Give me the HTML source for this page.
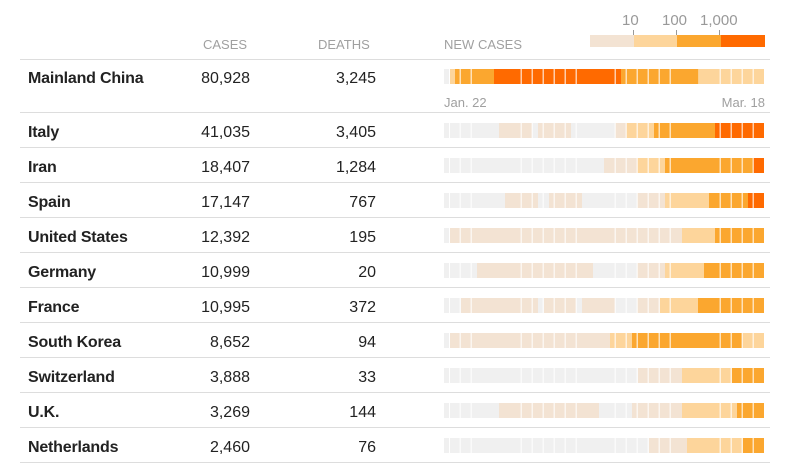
<!DOCTYPE html>
<html><head><style>
body{margin:0;width:795px;height:465px;background:#fff;position:relative;font-family:"Liberation Sans",Arial,sans-serif;overflow:hidden}
.a{position:absolute;white-space:nowrap}
.h{font-size:13px;color:#a0a0a0;top:37px}
.n{left:28px;font-weight:bold;font-size:16px;color:#222;letter-spacing:-0.2px}
.c{right:545px;font-size:16px;color:#222;text-align:right}
.d{right:419px;font-size:16px;color:#222;text-align:right}
.l{position:absolute;left:20px;width:750px;height:1px;background:#ddd}
svg.b{position:absolute;left:440px;width:330px;height:15px}
</style></head><body>
<div class="a h" style="left:203px">CASES</div>
<div class="a h" style="left:318px">DEATHS</div>
<div class="a h" style="left:444px">NEW CASES</div>
<div class="a" style="left:622px;top:12px;font-size:15px;color:#999">10</div>
<div class="a" style="left:662px;top:12px;font-size:15px;color:#999">100</div>
<div class="a" style="left:700px;top:12px;font-size:15px;color:#999">1,000</div>
<div style="position:absolute;left:590px;top:35px;width:44px;height:12px;background:#f3e3d3"></div>
<div style="position:absolute;left:634px;top:35px;width:43px;height:12px;background:#fdd59b"></div>
<div style="position:absolute;left:677px;top:35px;width:44px;height:12px;background:#fba72f"></div>
<div style="position:absolute;left:721px;top:35px;width:44px;height:12px;background:#ff6a00"></div>
<div style="position:absolute;left:633px;top:30px;width:1px;height:5px;background:#999"></div>
<div style="position:absolute;left:676px;top:30px;width:1px;height:5px;background:#999"></div>
<div style="position:absolute;left:719px;top:30px;width:1px;height:5px;background:#999"></div>
<div class="a" style="left:444px;top:95px;font-size:13px;color:#a0a0a0">Jan. 22</div>
<div class="a" style="right:30px;top:95px;font-size:13px;color:#a0a0a0">Mar. 18</div>
<div class="l" style="top:59px"></div>
<div class="l" style="top:112px"></div>
<div class="l" style="top:147px"></div>
<div class="l" style="top:182px"></div>
<div class="l" style="top:217px"></div>
<div class="l" style="top:252px"></div>
<div class="l" style="top:287px"></div>
<div class="l" style="top:322px"></div>
<div class="l" style="top:357px"></div>
<div class="l" style="top:392px"></div>
<div class="l" style="top:427px"></div>
<div class="l" style="top:462px"></div>
<div id="rows"></div>
<script>
var C={g:"#f0f0f0",b:"#f3e3d3",l:"#fdd59b",o:"#fba72f",d:"#ff6a00"};
var rows=[
["Mainland China","80,928","3,245",69,"g12 l28 o45 d162 o543 l775"],
["Italy","41,035","3,405",123,"g12 b177 g276 b294 g393 b525 l558 o642 d825"],
["Iran","18,407","1,284",158,"g12 b492 l591 o675 d940"],
["Spain","17,147","767",193,"g12 b195 g294 b327 g426 b591 l675 o807 d924"],
["United States","12,392","195",228,"g12 b30 l726 o825"],
["Germany","10,999","20",263,"g12 b111 g459 b591 l675 o792"],
["France","10,995","372",298,"g12 b63 g294 b312 g408 b426 g525 b591 l660 o774"],
["South Korea","8,652","94",333,"g12 b30 l510 o576 l906"],
["Switzerland","3,888","33",368,"g12 b594 l726 o876"],
["U.K.","3,269","144",403,"g12 b177 g294 b294 g477 b576 l726 o891"],
["Netherlands","2,460","76",438,"g12 b627 l741 o909"]];
var gaps=[28,60,93,243,276,309,342,375,408,525,558,591,624,657,690,840,873,906,939];
var h="";
rows.forEach(function(r){
 var t=r[3]+1;
 h+='<div class="a n" style="top:'+t+'px">'+r[0]+'</div><div class="a c" style="top:'+t+'px">'+r[1]+'</div><div class="a d" style="top:'+t+'px">'+r[2]+'</div>';
 var s=r[4].split(" ").map(function(x){return [x[0],+x.slice(1)]});
 var svg='<svg class="b" style="top:'+r[3]+'px" viewBox="0 0 990 15" preserveAspectRatio="none">';
 for(var i=0;i<s.length;i++){var e=i+1<s.length?s[i+1][1]:972;svg+='<rect x="'+s[i][1]+'" y="0" width="'+(e-s[i][1])+'" height="15" fill="'+C[s[i][0]]+'"/>';}
 gaps.forEach(function(g){svg+='<rect x="'+(g-1)+'" y="0" width="3" height="15" fill="#fff"/>';});
 h+=svg+'</svg>';
});
document.getElementById("rows").innerHTML=h;
</script>
</body></html>
